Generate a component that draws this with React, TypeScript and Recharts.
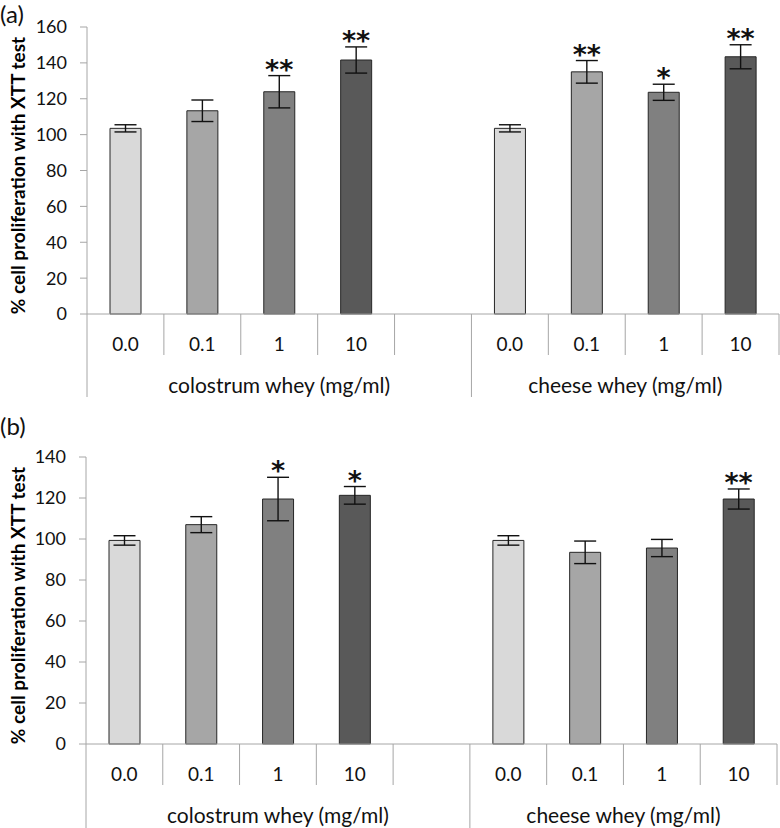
import React from "react";
import { ComposedChart, Bar, Cell, ErrorBar, Scatter, XAxis, YAxis } from "recharts";

// categories along the x axis (index 4 is the empty gap between groups)
const categories = ["0.0", "0.1", "1", "10", "", "0.0", "0.1", "1", "10"];
const groupLabels = ["colostrum whey (mg/ml)", "cheese whey (mg/ml)"];
const groupSpans = [5, 4];

// panel (a)
const valuesA = [103.5, 113.3, 123.9, 141.6, null, 103.5, 135.0, 123.6, 143.4];
const errorsA = [2.0, 6.0, 9.0, 7.3, null, 2.0, 6.3, 4.5, 6.7];
const starsA = ["", "", "**", "**", "", "", "**", "*", "**"];
const yTicksA = [0, 20, 40, 60, 80, 100, 120, 140, 160];

// panel (b)
const valuesB = [99.3, 107.0, 119.5, 121.3, null, 99.3, 93.5, 95.6, 119.5];
const errorsB = [2.3, 3.9, 10.6, 4.3, null, 2.3, 5.5, 4.2, 4.9];
const starsB = ["", "", "*", "*", "", "", "", "", "**"];
const yTicksB = [0, 20, 40, 60, 80, 100, 120, 140];

const yTitle = "% cell proliferation with XTT test";

const SHADES: Record<string, string> = {
  "0.0": "#d9d9d9",
  "0.1": "#a6a6a6",
  "1": "#808080",
  "10": "#595959",
};
const AXIS_GRAY = "#a6a6a6";
const FONT = "Lato, 'Open Sans', sans-serif";

type Row = {
  key: string;
  label: string;
  value: number | null;
  err: number | null;
  capTop: number | null;
  stars: string;
};

function buildRows(values: (number | null)[], errs: (number | null)[], stars: string[]): Row[] {
  return categories.map((c, i) => {
    const v = values[i];
    const e = errs[i];
    return {
      key: `c${i}`,
      label: c,
      value: v,
      err: e,
      capTop: v == null ? null : v + (e ?? 0),
      stars: stars[i],
    };
  });
}

const rowsA = buildRows(valuesA, errorsA, starsA);
const rowsB = buildRows(valuesB, errorsB, starsB);

// group start index for each category
const groupStarts: number[] = [];
groupSpans.reduce((acc, n) => {
  groupStarts.push(acc);
  return acc + n;
}, 0);

function makeTick(bandWidth: number, longDrop: number) {
  return function Tick(props: any) {
    const { x, y, index } = props;
    const left = x - bandWidth / 2;
    const right = x + bandWidth / 2;
    const g = groupStarts.indexOf(index);
    const isLast = index === categories.length - 1;
    return (
      <g>
        <line x1={left} y1={y} x2={left} y2={y + (g >= 0 ? longDrop : 41)} stroke={AXIS_GRAY} />
        {isLast && <line x1={right} y1={y} x2={right} y2={y + 41} stroke={AXIS_GRAY} />}
        <text
          x={x}
          y={y + 29}
          textAnchor="middle"
          dominantBaseline="central"
          fontFamily={FONT}
          fontSize={19}
          fill="#111"
        >
          {categories[index]}
        </text>
        {g >= 0 && (
          <text
            x={left + (groupSpans[g] * bandWidth) / 2}
            y={y + 70}
            textAnchor="middle"
            dominantBaseline="central"
            fontFamily={FONT}
            fontSize={21}
            fill="#111"
          >
            {groupLabels[g]}
          </text>
        )}
      </g>
    );
  };
}

function YTitle(props: any) {
  const vb = props.viewBox || { y: 0, height: 300 };
  const cx = 17;
  const cy = vb.y + vb.height / 2 + 5;
  return (
    <text
      x={cx}
      y={cy}
      transform={`rotate(-90 ${cx} ${cy})`}
      textAnchor="middle"
      dominantBaseline="central"
      fontFamily={FONT}
      fontWeight={700}
      fontSize={19}
      fill="#000"
    >
      {yTitle}
    </text>
  );
}

function StarMark(props: any) {
  const { cx, cy, payload } = props;
  if (!payload || !payload.stars || cy == null || isNaN(cy)) return <g />;
  return (
    <text
      x={cx}
      y={cy + 3}
      textAnchor="middle"
      fontFamily="'DejaVu Sans', sans-serif"
      fontWeight={700}
      fontSize={27}
      fill="#111"
    >
      {payload.stars}
    </text>
  );
}

type PanelProps = {
  tag: string;
  rows: Row[];
  yMax: number;
  yTicks: number[];
  height: number;
  marginTop: number;
  marginRight: number;
  yWidth: number;
  xHeight: number;
  longDrop: number;
  tagTop: number;
};

function Panel({ tag, rows, yMax, yTicks, height, marginTop, marginRight, yWidth, xHeight, longDrop, tagTop }: PanelProps) {
  const width = 780;
  const bandWidth = (width - marginRight - yWidth) / categories.length;
  const Tick = makeTick(bandWidth, longDrop);
  return (
    <div style={{ position: "relative", width, height }}>
      <div
        style={{
          position: "absolute",
          left: 0,
          top: tagTop,
          fontFamily: FONT,
          fontSize: 24,
          lineHeight: "24px",
          color: "#111",
        }}
      >
        {tag}
      </div>
      <ComposedChart
        width={width}
        height={height}
        data={rows}
        margin={{ top: marginTop, right: marginRight, left: 0, bottom: 0 }}
      >
        <XAxis
          dataKey="key"
          type="category"
          interval={0}
          height={xHeight}
          axisLine={{ stroke: AXIS_GRAY }}
          tickLine={false}
          tickSize={0}
          tickMargin={0}
          tick={<Tick />}
        />
        <YAxis
          type="number"
          domain={[0, yMax]}
          ticks={yTicks}
          width={yWidth}
          axisLine={{ stroke: AXIS_GRAY }}
          tickLine={{ stroke: AXIS_GRAY }}
          tickSize={7}
          tickMargin={13}
          tick={{ fontFamily: FONT, fontSize: 18, fill: "#111" }}
          label={<YTitle />}
        />
        <Bar dataKey="value" barSize={31} stroke="#262626" strokeWidth={1} isAnimationActive={false}>
          {rows.map((r) => (
            <Cell key={r.key} fill={SHADES[r.label] || "#fff"} />
          ))}
          <ErrorBar dataKey="err" width={11} stroke="#111" strokeWidth={1.4} direction="y" isAnimationActive={false} />
        </Bar>
        <Scatter dataKey="capTop" shape={<StarMark />} legendType="none" isAnimationActive={false} />
      </ComposedChart>
    </div>
  );
}

export default function App() {
  return (
    <div style={{ position: "absolute", left: 0, top: 0, width: 780, height: 828, background: "#fff" }}>
      <Panel
        tag="(a)"
        rows={rowsA}
        yMax={160}
        yTicks={yTicksA}
        height={400}
        marginTop={27}
        marginRight={1}
        yWidth={87}
        xHeight={86}
        longDrop={83}
        tagTop={2}
      />
      <Panel
        tag="(b)"
        rows={rowsB}
        yMax={140}
        yTicks={yTicksB}
        height={428}
        marginTop={57}
        marginRight={3}
        yWidth={86}
        xHeight={84}
        longDrop={85}
        tagTop={14}
      />
    </div>
  );
}
